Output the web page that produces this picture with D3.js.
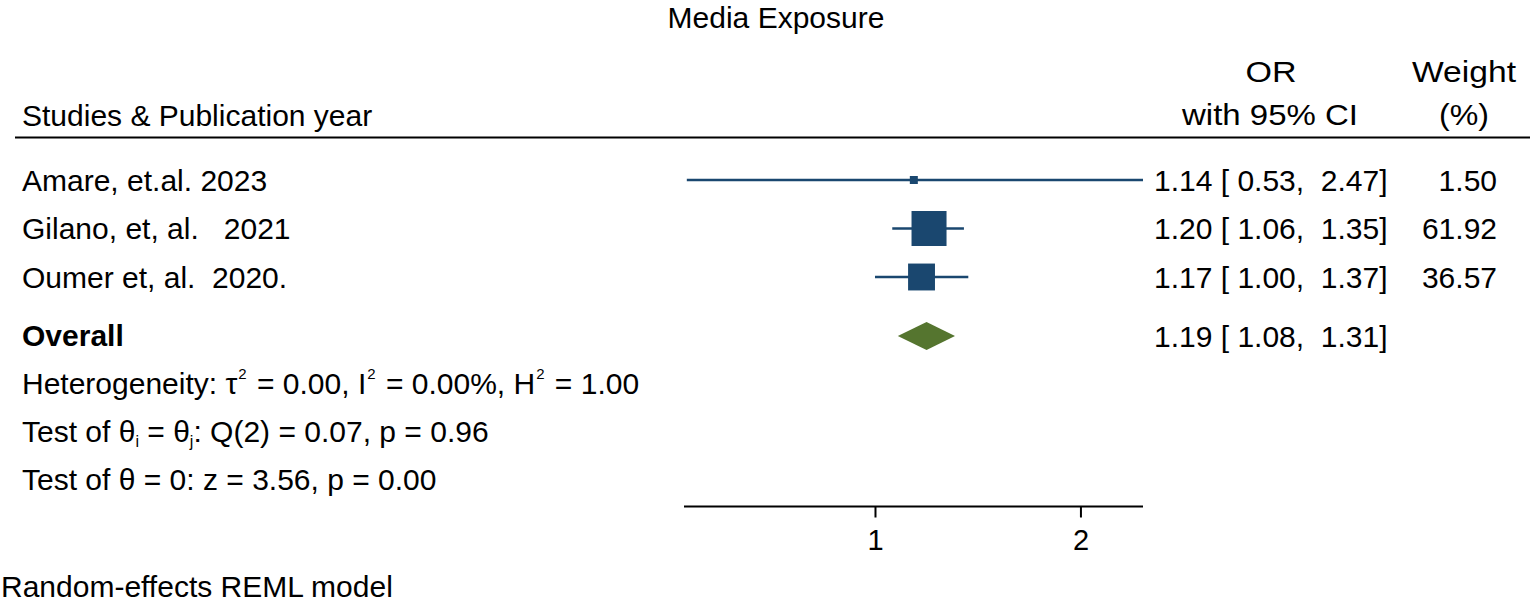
<!DOCTYPE html>
<html>
<head>
<meta charset="utf-8">
<script src="https://cdn.jsdelivr.net/npm/d3@7"></script>
<style>
  html, body { margin: 0; padding: 0; background: #fff; }
  svg { display: block; }
  text { font-family: "Liberation Sans", Arial, sans-serif; fill: #000; white-space: pre; }
</style>
</head>
<body>
<svg id="chart" width="1536" height="605"></svg>
<script>
// ---------------- data ----------------
const chartTitle = "Media Exposure";
const studies = ["Amare, et.al. 2023", "Gilano, et, al.   2021", "Oumer et, al.  2020."];
const orValues = [1.14, 1.20, 1.17];
const ciLower = [0.53, 1.06, 1.00];
const ciUpper = [2.47, 1.35, 1.37];
const weights = [1.50, 61.92, 36.57];
const overallLabel = "Overall";
const overallValue = [1.19, 1.08, 1.31]; // estimate, lower, upper
const axisDomain = [0.525, 2.47];
const tickValues = [1, 2];
const footnote = "Random-effects REML model";

// ---------------- layout ----------------
const svg = d3.select("#chart");
const font = 30;
const navy = "#1a476f";
const green = "#55752f";

const x = d3.scaleLog().domain(axisDomain).range([684, 1143]);
const rowY = d3.scaleLinear().domain([0, 1]).range([180, 228.5]);
const overallY = 336;
const size = d3.scaleSqrt().domain([0, d3.max(weights)]).range([0, 35]);
const fmt = d3.format(".2f");

// title
svg.append("text").attr("x", 776).attr("y", 28).attr("text-anchor", "middle")
  .attr("font-size", font).text(chartTitle);

// headers
svg.append("text").attr("x", 22).attr("y", 126).attr("font-size", font).text("Studies & Publication year");
const hdr = (tx, cx, y, len) => svg.append("text").attr("x", cx).attr("y", y).attr("text-anchor", "middle")
  .attr("font-size", font).attr("textLength", len).attr("lengthAdjust", "spacingAndGlyphs").text(tx);
hdr("OR", 1271, 82, 51);
hdr("with 95% CI", 1270, 125, 176);
hdr("Weight", 1464, 82, 104);
hdr("(%)", 1464, 125, 50);
svg.append("line").attr("x1", 15).attr("x2", 1530).attr("y1", 137.5).attr("y2", 137.5)
  .attr("stroke", "#000").attr("stroke-width", 2);

// study rows
const rows = studies.map((s, i) => ({ name: s, or: orValues[i], lo: ciLower[i], hi: ciUpper[i], w: weights[i], i }));
const g = svg.append("g");
g.selectAll("text.study").data(rows).join("text").attr("class", "study")
  .attr("x", 22).attr("y", d => rowY(d.i) + 10.5).attr("font-size", font).text(d => d.name);

g.selectAll("line.ci").data(rows).join("line").attr("class", "ci")
  .attr("x1", d => x(d.lo)).attr("x2", d => x(d.hi))
  .attr("y1", d => rowY(d.i)).attr("y2", d => rowY(d.i))
  .attr("stroke", navy).attr("stroke-width", 2.6);

g.selectAll("rect.box").data(rows).join("rect").attr("class", "box")
  .attr("x", d => x(d.or) - Math.max(8, size(d.w)) / 2)
  .attr("y", d => rowY(d.i) - Math.max(8, size(d.w)) / 2)
  .attr("width", d => Math.max(8, size(d.w)))
  .attr("height", d => Math.max(8, size(d.w)))
  .attr("fill", navy);

g.selectAll("text.orv").data(rows).join("text").attr("class", "orv")
  .attr("x", 1154).attr("y", d => rowY(d.i) + 10.5).attr("font-size", font)
  .text(d => `${fmt(d.or)} [ ${fmt(d.lo)},  ${fmt(d.hi)}]`);

g.selectAll("text.wt").data(rows).join("text").attr("class", "wt")
  .attr("x", 1497).attr("y", d => rowY(d.i) + 10.5).attr("text-anchor", "end").attr("font-size", font)
  .text(d => fmt(d.w));

// overall
svg.append("text").attr("x", 22).attr("y", overallY + 10).attr("font-size", font)
  .attr("font-weight", "bold").text(overallLabel);
const [oe, ol, oh] = overallValue;
svg.append("path")
  .attr("d", `M${x(ol)},${overallY} L${x(oe)},${overallY - 14} L${x(oh)},${overallY} L${x(oe)},${overallY + 14} Z`)
  .attr("fill", green);
svg.append("text").attr("x", 1154).attr("y", overallY + 10.5).attr("font-size", font)
  .text(`${fmt(oe)} [ ${fmt(ol)},  ${fmt(oh)}]`);

// statistics lines
const het = svg.append("text").attr("x", 22).attr("y", 394).attr("font-size", font);
het.append("tspan").text("Heterogeneity: τ");
het.append("tspan").attr("font-size", 15).attr("dx", 1).attr("dy", -15).text("2");
het.append("tspan").attr("dx", 2).attr("dy", 15).text(" = 0.00, I");
het.append("tspan").attr("font-size", 15).attr("dx", 1).attr("dy", -15).text("2");
het.append("tspan").attr("dx", 2).attr("dy", 15).text(" = 0.00%, H");
het.append("tspan").attr("font-size", 15).attr("dx", 1).attr("dy", -15).text("2");
het.append("tspan").attr("dx", 2).attr("dy", 15).text(" = 1.00");

const t1 = svg.append("text").attr("x", 22).attr("y", 442).attr("font-size", font);
t1.append("tspan").text("Test of θ");
t1.append("tspan").attr("font-size", 16).attr("dy", 5).text("i");
t1.append("tspan").attr("dy", -5).text(" = θ");
t1.append("tspan").attr("font-size", 16).attr("dy", 5).text("j");
t1.append("tspan").attr("dy", -5).text(": Q(2) = 0.07, p = 0.96");

svg.append("text").attr("x", 22).attr("y", 490).attr("font-size", font)
  .text("Test of θ = 0: z = 3.56, p = 0.00");

// axis
const axisG = svg.append("g").attr("transform", "translate(0,506.5)");
axisG.call(d3.axisBottom(x).tickValues(tickValues).tickFormat(d3.format("d")).tickSize(11).tickPadding(12).tickSizeOuter(0));
axisG.select(".domain").attr("stroke", "#000").attr("stroke-width", 2).attr("d", `M${x.range()[0]},0H${x.range()[1]}`);
axisG.selectAll(".tick line").attr("stroke", "#000").attr("stroke-width", 2);
axisG.selectAll(".tick text").attr("font-size", 29).attr("font-family", "Liberation Sans, Arial, sans-serif").attr("fill", "#000");

// footnote
svg.append("text").attr("x", 1).attr("y", 597).attr("font-size", font).text(footnote);
</script>
</body>
</html>
